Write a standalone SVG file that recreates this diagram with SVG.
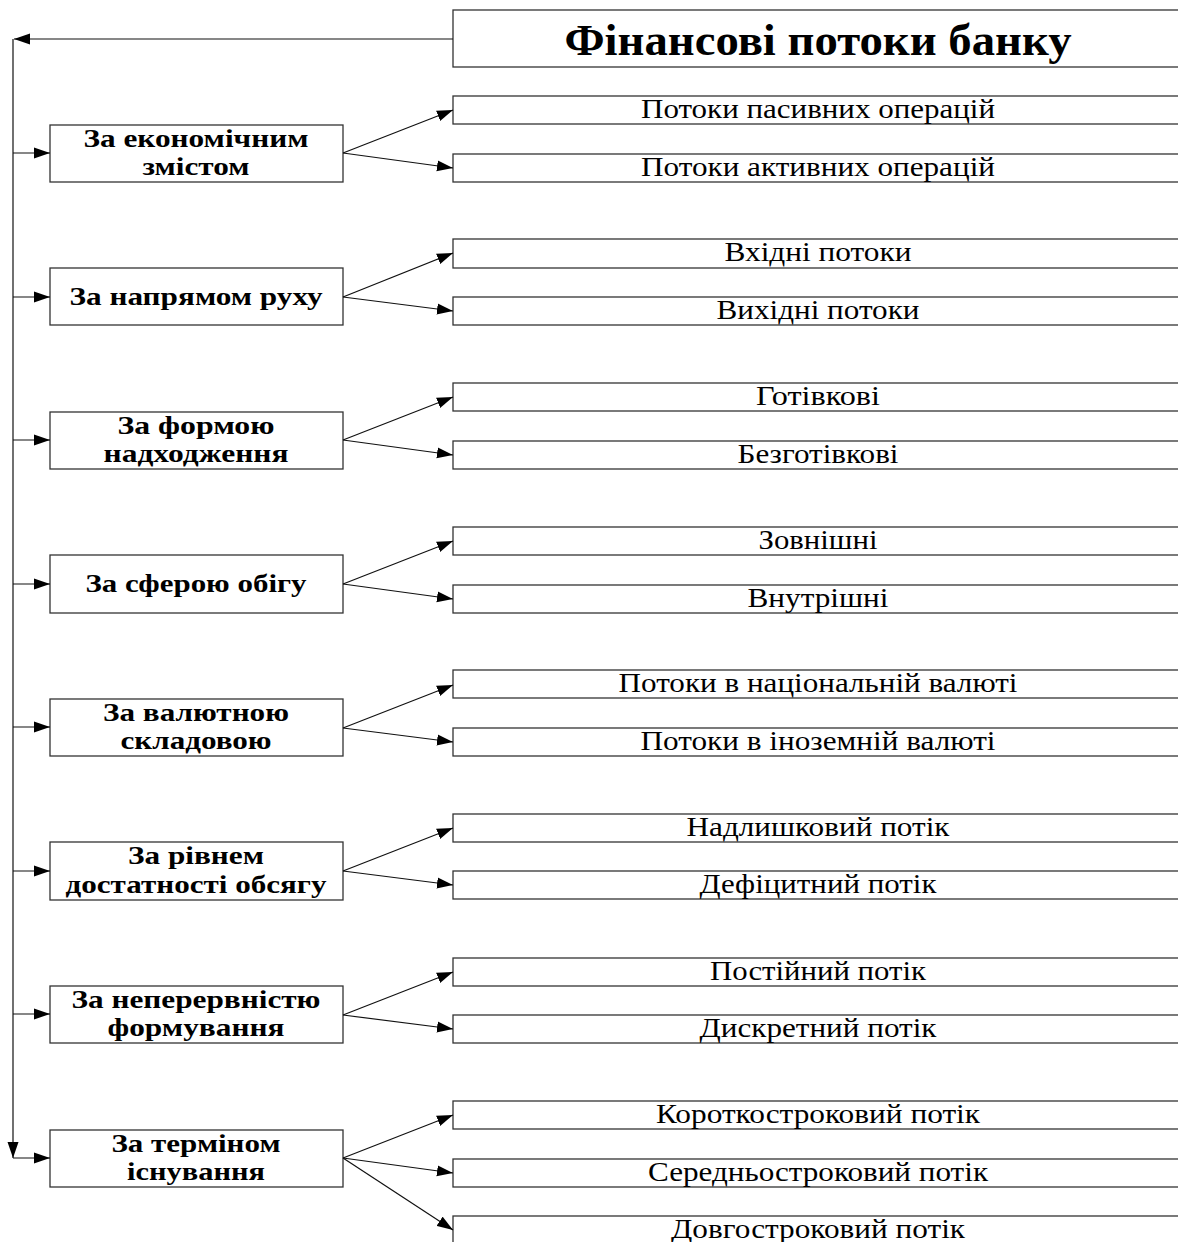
<svg xmlns="http://www.w3.org/2000/svg" width="1178" height="1242" viewBox="0 0 1178 1242">
<style>
.box{fill:#fff;stroke:#333;stroke-width:1.3}
.ln{fill:none;stroke:#111;stroke-width:1.2}
.cat{font-family:"Liberation Serif","Times New Roman",serif;font-weight:bold;font-size:26px;text-anchor:middle;fill:#000}
.sub{font-family:"Liberation Serif","Times New Roman",serif;font-size:27px;text-anchor:middle;fill:#000}
.title{font-family:"Liberation Serif","Times New Roman",serif;font-weight:bold;font-size:45px;text-anchor:middle;fill:#000}
</style>
<defs>
<marker id="ah" markerUnits="userSpaceOnUse" markerWidth="17" markerHeight="12" refX="16" refY="6" orient="auto">
<path d="M0,0.5 L16,6 L0,11.5 Z" fill="#000"/>
</marker>
</defs>
<g id="title">
<rect class="box" x="453" y="10" width="740" height="57"/>
<text class="title" x="818" y="55" textLength="507" lengthAdjust="spacingAndGlyphs">Фінансові потоки банку</text>
</g>
<g id="c1"><rect class="box" x="50" y="125" width="293" height="57"/><text class="cat" x="196" y="147" textLength="225" lengthAdjust="spacingAndGlyphs">За економічним</text><text class="cat" x="196" y="175" textLength="107" lengthAdjust="spacingAndGlyphs">змістом</text></g>
<g id="c2"><rect class="box" x="50" y="268" width="293" height="57"/><text class="cat" x="196" y="305" textLength="253" lengthAdjust="spacingAndGlyphs">За напрямом руху</text></g>
<g id="c3"><rect class="box" x="50" y="412" width="293" height="57"/><text class="cat" x="196" y="434" textLength="157" lengthAdjust="spacingAndGlyphs">За формою</text><text class="cat" x="196" y="462" textLength="185" lengthAdjust="spacingAndGlyphs">надходження</text></g>
<g id="c4"><rect class="box" x="50" y="555" width="293" height="58"/><text class="cat" x="196" y="592" textLength="221" lengthAdjust="spacingAndGlyphs">За сферою обігу</text></g>
<g id="c5"><rect class="box" x="50" y="699" width="293" height="57"/><text class="cat" x="196" y="721" textLength="186" lengthAdjust="spacingAndGlyphs">За валютною</text><text class="cat" x="196" y="749" textLength="151" lengthAdjust="spacingAndGlyphs">складовою</text></g>
<g id="c6"><rect class="box" x="50" y="842" width="293" height="58"/><text class="cat" x="196" y="864" textLength="136" lengthAdjust="spacingAndGlyphs">За рівнем</text><text class="cat" x="196" y="893" textLength="261" lengthAdjust="spacingAndGlyphs">достатності обсягу</text></g>
<g id="c7"><rect class="box" x="50" y="986" width="293" height="57"/><text class="cat" x="196" y="1008" textLength="249" lengthAdjust="spacingAndGlyphs">За неперервністю</text><text class="cat" x="196" y="1036" textLength="177" lengthAdjust="spacingAndGlyphs">формування</text></g>
<g id="c8"><rect class="box" x="50" y="1130" width="293" height="57"/><text class="cat" x="196" y="1152" textLength="169" lengthAdjust="spacingAndGlyphs">За терміном</text><text class="cat" x="196" y="1180" textLength="138" lengthAdjust="spacingAndGlyphs">існування</text></g>

<g id="r1a"><rect class="box" x="453" y="96" width="740" height="28"/><text class="sub" x="818" y="118" textLength="354" lengthAdjust="spacingAndGlyphs">Потоки пасивних операцій</text></g>
<g id="r1b"><rect class="box" x="453" y="154" width="740" height="28"/><text class="sub" x="818" y="176" textLength="354" lengthAdjust="spacingAndGlyphs">Потоки активних операцій</text></g>
<g id="r2a"><rect class="box" x="453" y="239" width="740" height="29"/><text class="sub" x="818" y="261" textLength="187" lengthAdjust="spacingAndGlyphs">Вхідні потоки</text></g>
<g id="r2b"><rect class="box" x="453" y="297" width="740" height="28"/><text class="sub" x="818" y="319" textLength="203" lengthAdjust="spacingAndGlyphs">Вихідні потоки</text></g>
<g id="r3a"><rect class="box" x="453" y="383" width="740" height="28"/><text class="sub" x="818" y="405" textLength="124" lengthAdjust="spacingAndGlyphs">Готівкові</text></g>
<g id="r3b"><rect class="box" x="453" y="441" width="740" height="28"/><text class="sub" x="818" y="463" textLength="161" lengthAdjust="spacingAndGlyphs">Безготівкові</text></g>
<g id="r4a"><rect class="box" x="453" y="527" width="740" height="28"/><text class="sub" x="818" y="549" textLength="119" lengthAdjust="spacingAndGlyphs">Зовнішні</text></g>
<g id="r4b"><rect class="box" x="453" y="585" width="740" height="28"/><text class="sub" x="818" y="607" textLength="141" lengthAdjust="spacingAndGlyphs">Внутрішні</text></g>
<g id="r5a"><rect class="box" x="453" y="670" width="740" height="28"/><text class="sub" x="818" y="692" textLength="399" lengthAdjust="spacingAndGlyphs">Потоки в національній валюті</text></g>
<g id="r5b"><rect class="box" x="453" y="728" width="740" height="28"/><text class="sub" x="818" y="750" textLength="355" lengthAdjust="spacingAndGlyphs">Потоки в іноземній валюті</text></g>
<g id="r6a"><rect class="box" x="453" y="814" width="740" height="28"/><text class="sub" x="818" y="836" textLength="263" lengthAdjust="spacingAndGlyphs">Надлишковий потік</text></g>
<g id="r6b"><rect class="box" x="453" y="871" width="740" height="28"/><text class="sub" x="818" y="893" textLength="237" lengthAdjust="spacingAndGlyphs">Дефіцитний потік</text></g>
<g id="r7a"><rect class="box" x="453" y="958" width="740" height="28"/><text class="sub" x="818" y="980" textLength="216" lengthAdjust="spacingAndGlyphs">Постійний потік</text></g>
<g id="r7b"><rect class="box" x="453" y="1015" width="740" height="28"/><text class="sub" x="818" y="1037" textLength="237" lengthAdjust="spacingAndGlyphs">Дискретний потік</text></g>
<g id="r8a"><rect class="box" x="453" y="1101" width="740" height="28"/><text class="sub" x="818" y="1123" textLength="324" lengthAdjust="spacingAndGlyphs">Короткостроковий потік</text></g>
<g id="r8b"><rect class="box" x="453" y="1159" width="740" height="28"/><text class="sub" x="818" y="1181" textLength="340" lengthAdjust="spacingAndGlyphs">Середньостроковий потік</text></g>
<g id="r8c"><rect class="box" x="453" y="1216" width="740" height="40"/><text class="sub" x="818" y="1238" textLength="294" lengthAdjust="spacingAndGlyphs">Довгостроковий потік</text></g>

<g id="connectors">
<line class="ln" x1="453" y1="39" x2="14" y2="39" marker-end="url(#ah)"/>
<line class="ln" x1="13" y1="39" x2="13" y2="1158" marker-end="url(#ah)"/>
<line class="ln" x1="13" y1="153" x2="50" y2="153" marker-end="url(#ah)"/>
<line class="ln" x1="13" y1="297" x2="50" y2="297" marker-end="url(#ah)"/>
<line class="ln" x1="13" y1="440" x2="50" y2="440" marker-end="url(#ah)"/>
<line class="ln" x1="13" y1="584" x2="50" y2="584" marker-end="url(#ah)"/>
<line class="ln" x1="13" y1="727" x2="50" y2="727" marker-end="url(#ah)"/>
<line class="ln" x1="13" y1="871" x2="50" y2="871" marker-end="url(#ah)"/>
<line class="ln" x1="13" y1="1014" x2="50" y2="1014" marker-end="url(#ah)"/>
<line class="ln" x1="13" y1="1158" x2="50" y2="1158" marker-end="url(#ah)"/>

<line class="ln" x1="343" y1="153" x2="453" y2="110" marker-end="url(#ah)"/>
<line class="ln" x1="343" y1="153" x2="453" y2="168" marker-end="url(#ah)"/>
<line class="ln" x1="343" y1="297" x2="453" y2="253" marker-end="url(#ah)"/>
<line class="ln" x1="343" y1="297" x2="453" y2="311" marker-end="url(#ah)"/>
<line class="ln" x1="343" y1="440" x2="453" y2="397" marker-end="url(#ah)"/>
<line class="ln" x1="343" y1="440" x2="453" y2="455" marker-end="url(#ah)"/>
<line class="ln" x1="343" y1="584" x2="453" y2="541" marker-end="url(#ah)"/>
<line class="ln" x1="343" y1="584" x2="453" y2="599" marker-end="url(#ah)"/>
<line class="ln" x1="343" y1="728" x2="453" y2="685" marker-end="url(#ah)"/>
<line class="ln" x1="343" y1="728" x2="453" y2="742" marker-end="url(#ah)"/>
<line class="ln" x1="343" y1="871" x2="453" y2="828" marker-end="url(#ah)"/>
<line class="ln" x1="343" y1="871" x2="453" y2="885" marker-end="url(#ah)"/>
<line class="ln" x1="343" y1="1015" x2="453" y2="972" marker-end="url(#ah)"/>
<line class="ln" x1="343" y1="1015" x2="453" y2="1029" marker-end="url(#ah)"/>
<line class="ln" x1="343" y1="1158" x2="453" y2="1115" marker-end="url(#ah)"/>
<line class="ln" x1="343" y1="1158" x2="453" y2="1173" marker-end="url(#ah)"/>
<line class="ln" x1="343" y1="1158" x2="453" y2="1230" marker-end="url(#ah)"/>
</g>
</svg>
